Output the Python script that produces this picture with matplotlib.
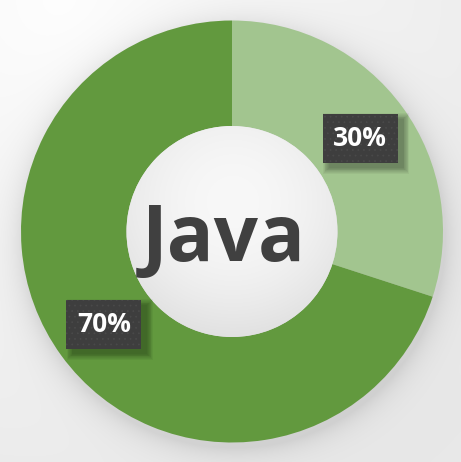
import numpy as np
import matplotlib
matplotlib.use("Agg")
import matplotlib.pyplot as plt
from matplotlib.patches import Circle, Rectangle

# data
center_label = "Java"
shares = [30, 70]
colors = ["#A2C58F", "#62993E"]

W, H = 461, 462
fig = plt.figure(figsize=(W / 100, H / 100), dpi=100)
ax = fig.add_axes([0, 0, 1, 1])
ax.axis("off")

cx, cy = 232, H - 231.5
R = 211
r_in = 105.5

# background gradient + soft shadow of the ring (image rows top->bottom)
yy, xx = np.mgrid[0:H, 0:W]
d = np.sqrt((xx - 60) ** 2 + (yy - 0) ** 2) / 560
bg = 0.995 - 0.085 * np.clip(d, 0, 1)
dist = np.sqrt((xx - cx - 1) ** 2 + (yy - (H - cy) - 5) ** 2) - R
bg = bg - 0.10 * np.exp(-np.clip(dist, 0, None) / 14.0)
ax.imshow(np.dstack([bg, bg, bg]), extent=(0, W, 0, H), origin="upper", zorder=0)

wedges, _ = ax.pie(shares, colors=colors, startangle=90, counterclock=False,
                   radius=R, center=(cx, cy),
                   wedgeprops=dict(width=R - r_in, linewidth=0))
for w in wedges:
    w.set_zorder(2)

# inner white circle with radial shading
rr = np.sqrt((xx - cx) ** 2 + (yy - (H - cy) + 30) ** 2) / r_in
shade = 0.972 - 0.055 * np.clip(rr, 0, 1.4) ** 2
img = ax.imshow(np.dstack([shade, shade, shade]), extent=(0, W, 0, H),
                origin="upper", zorder=3)
img.set_clip_path(Circle((cx, cy), r_in, transform=ax.transData))

ax.text(cx - 8, cy, center_label, ha="center", va="center_baseline",
        fontsize=56, fontweight="bold", family="Open Sans", color="#404040",
        zorder=5)

# percentage labels
plt.rcParams["hatch.linewidth"] = 0.5
mid_r = (R + r_in) / 2
bw, bh = 75, 49
for w, v in zip(wedges, shares):
    ang = np.deg2rad((w.theta1 + w.theta2) / 2)
    x = cx + mid_r * np.cos(ang)
    y = cy + mid_r * np.sin(ang)
    for k in range(8):
        ax.add_patch(Rectangle((x - bw / 2 + 6 - k * 0.8, y - bh / 2 - 5 - k * 0.8),
                               bw + k * 1.6, bh + k * 1.6, color="black",
                               alpha=0.045, lw=0, zorder=6))
    ax.add_patch(Rectangle((x - bw / 2, y - bh / 2), bw, bh, facecolor="#3E3E3E",
                           edgecolor="#4A4A4A", hatch="...", lw=0, zorder=7))
    ax.text(x, y, f"{v}%", ha="center", va="center", fontsize=19,
            fontweight="bold", family="Open Sans", color="white", zorder=8)

ax.set_xlim(0, W)
ax.set_ylim(0, H)
ax.set_aspect("equal")
fig.savefig("out.png", dpi=100)
